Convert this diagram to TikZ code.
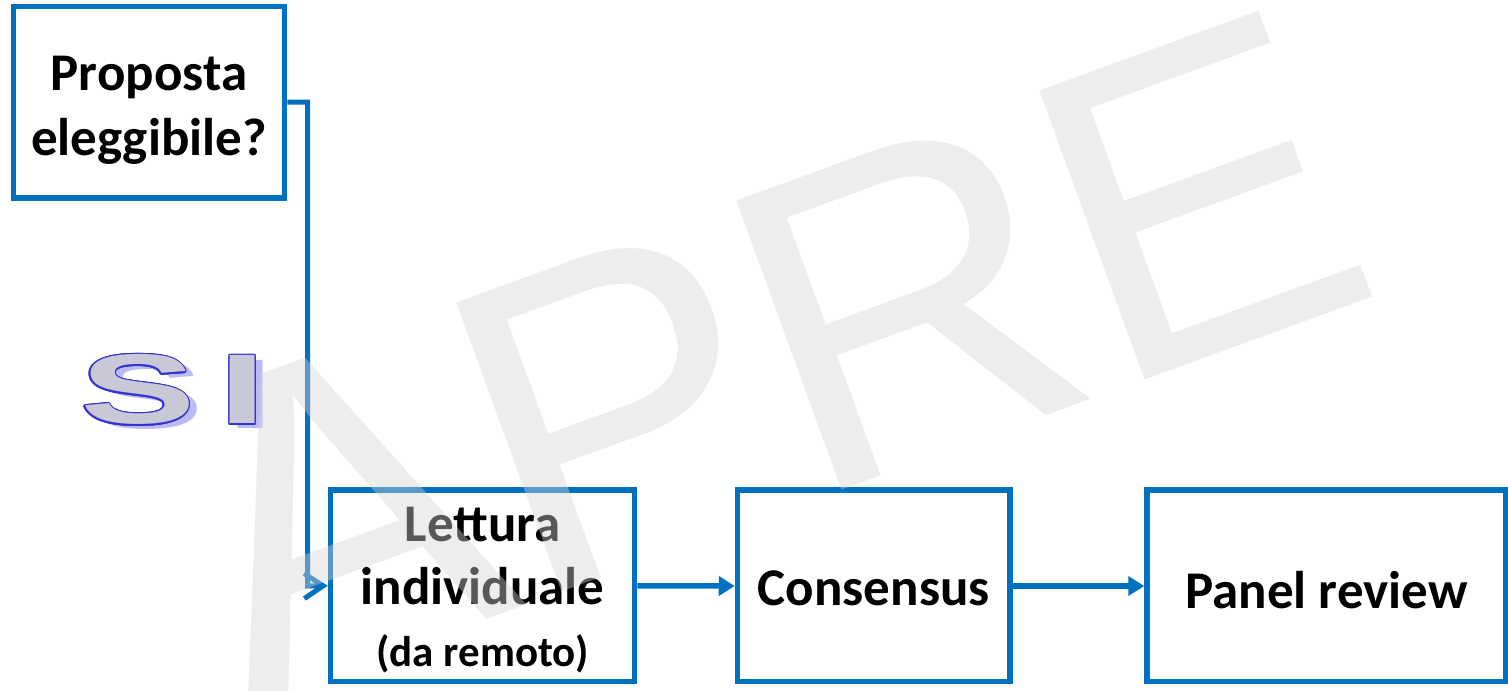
\documentclass[tikz,border=0pt]{standalone}
\usepackage{fontspec}
\usepackage{graphicx}
\setmainfont{Carlito}
\newfontfamily\markfont{Liberation Sans}
\usetikzlibrary{arrows.meta}

\definecolor{apreblue}{RGB}{0,112,192}
\definecolor{markgray}{RGB}{212,212,212}
\definecolor{siedge}{RGB}{51,51,204}
\definecolor{sifill}{RGB}{200,200,214}
\definecolor{sishadow}{RGB}{140,140,240}

\newcommand{\sitext}{\scalebox{1.75}[1]{\fontsize{99}{99}\selectfont\bfseries S\kern13pt I}}

\tikzset{
  stepbox/.style={draw=apreblue, line width=5.5pt, minimum height=191.5pt, align=center,
    inner sep=0pt, font=\fontsize{53}{64.5}\selectfont\bfseries},
  link/.style={draw=apreblue, line width=5.5pt, -{Triangle[length=16pt,width=19pt]}},
  elbow/.style={draw=apreblue, line width=5pt, -{Straight Barb[length=19pt,width=25pt]}},
  silabel/.style={anchor=base west, inner sep=0pt, font=\markfont},
}

\begin{document}
\begin{tikzpicture}[x=1pt,y=1pt]
  \useasboundingbox (0,0) rectangle (1508,691);
  % boxes
  \node[stepbox, minimum width=271pt] (prop) at (149,588.75) {\rule{0pt}{50pt}Proposta\\eleggibile?};
  \node[stepbox, minimum width=304pt, font=\fontsize{53}{63}\selectfont\bfseries] (lett) at (482.5,105.25)
    {\rule{0pt}{44pt}Lettura\\individuale\\[-1pt]{\fontsize{43}{52}\selectfont (da remoto)}};
  \node[stepbox, minimum width=272.5pt, text height=39pt, text depth=0pt] (cons) at (873.75,105) {Consensus};
  \node[stepbox, minimum width=359pt, text height=45pt, text depth=0pt] (panel) at (1326.5,105) {Panel review};

  % connectors
  \coordinate (bend) at (307.5,105);
  \draw[elbow] (prop.east) -| (bend) -- (lett.west);
  \draw[link] (lett.east) -- (cons.west);
  \draw[link] (cons.east) -- (panel.west);

  % SI with outline and shadow
  \coordinate (si) at (80,267);
  \node[silabel, text=sishadow, text opacity=0.6] (sishade) at ([shift={(8,-5)}]si) {\sitext};
  \foreach \ang in {0,30,...,330}
    \node[silabel, text=siedge] (siedge\ang) at ([shift={(\ang:1.4)}]si) {\sitext};
  \node[silabel, text=sifill] (simain) at (si) {\sitext};

  % watermark
  \node[rotate=20, anchor=base west, inner sep=0pt, text=markgray, text opacity=0.42,
    font=\markfont\fontsize{447}{447}\selectfont] (mark) at (247,-16) {APRE};
\end{tikzpicture}
\end{document}
